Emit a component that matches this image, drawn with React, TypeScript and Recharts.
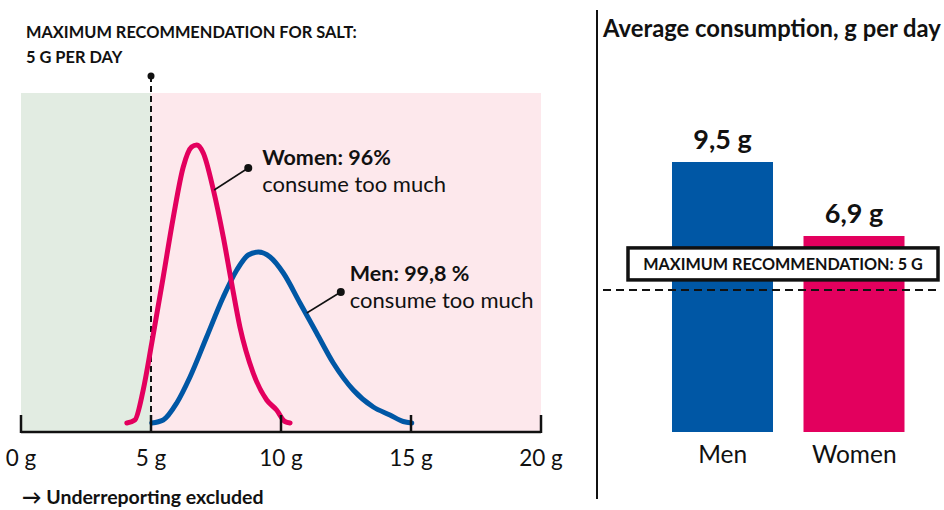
import React from 'react';
import {
  LineChart, Line, XAxis, YAxis, ReferenceArea, ReferenceLine, ReferenceDot,
  BarChart, Bar, LabelList, Cell,
} from 'recharts';

const FONT = 'Lato, "Noto Sans", sans-serif';
const BLUE = '#0057a5';
const PINK = '#e3005e';
const GREEN_BG = '#e2ece2';
const PINK_BG = '#fde8ec';
const INK = '#111111';

// ---- Left panel: distribution of daily salt intake (relative frequency) ----
const gramTicks = [0, 5, 10, 15, 20];
const recommendedMax = 5;

const womenGrams = [4.07, 4.38, 4.7, 5.03, 5.47, 5.86, 6.24, 6.56, 6.76, 7.01, 7.4, 7.78, 8.1, 8.42, 8.93, 9.45, 9.83, 10.15, 10.35];
const womenDensity = [0, 3, 33, 80, 146, 206, 256, 276, 278, 270, 233, 186, 140, 96, 50, 23, 13, 1.5, 0];

const menGrams = [5.03, 5.47, 5.99, 6.5, 7.14, 7.78, 8.3, 8.74, 9.13, 9.58, 10.09, 10.73, 11.37, 12.01, 12.78, 13.55, 14.19, 14.7, 15.03];
const menDensity = [0, 3, 20, 46, 86, 126, 153, 168, 171, 166, 150, 120, 90, 60, 33, 16, 8, 1.5, 0];

// ---- Right panel: average consumption ----
const categories = ['Men', 'Women'];
const averages = [9.5, 6.9];
const barColors = [BLUE, PINK];

const womenData = womenGrams.map((g, i) => ({ g, d: womenDensity[i] }));
const menData = menGrams.map((g, i) => ({ g, d: menDensity[i] }));
const barData = categories.map((name, i) => ({ name, value: averages[i] }));

const GramTick = (props: any) => {
  const { x, y, payload } = props;
  return (
    <g>
      <line x1={x} x2={x} y1={y - 17} y2={y + 1} stroke={INK} strokeWidth={2.5} />
      <text x={x} y={y + 34} textAnchor="middle" fontSize={22.5} fill={INK} fontFamily={FONT}>
        {`${payload.value} g`}
      </text>
    </g>
  );
};

const makeCallout = (title: string, sub: string, dx: number, dy: number) => (props: any) => {
  const vb = props.viewBox || {};
  const cx = (vb.x ?? 0) + (vb.width ?? 0) / 2;
  const cy = (vb.y ?? 0) + (vb.height ?? 0) / 2;
  return (
    <text x={cx + dx} y={cy + dy} fontFamily={FONT} fontSize={22} fill={INK}>
      <tspan fontWeight={700} fontSize={21.5}>{title}</tspan>
      <tspan x={cx + dx} dy={27}>{sub}</tspan>
    </text>
  );
};

const BoxLabel = (props: any) => {
  const vb = props.viewBox || {};
  const x0 = (vb.x ?? 0) + 25;
  const y0 = (vb.y ?? 0) - 42;
  return (
    <g>
      <rect x={x0} y={y0} width={310} height={32} fill="#fff" stroke={INK} strokeWidth={3.5} />
      <text x={x0 + 155} y={y0 + 22} textAnchor="middle" fontFamily={FONT} fontWeight={700} fontSize={16.2} fill={INK}>
        MAXIMUM RECOMMENDATION: 5 G
      </text>
    </g>
  );
};

export default function App() {
  return (
    <div style={{ position: 'absolute', left: 0, top: 0, width: 944, height: 510, background: '#fff', fontFamily: FONT }}>
      <div style={{ position: 'absolute', left: 0, top: 0 }}>
        <LineChart width={597} height={510} margin={{ top: 93, right: 56, bottom: 38, left: 21 }}>
          <XAxis
            dataKey="g"
            type="number"
            domain={[0, 20]}
            ticks={gramTicks}
            interval={0}
            height={40}
            tickSize={0}
            tickMargin={0}
            tickLine={false}
            axisLine={{ stroke: INK, strokeWidth: 2.5 }}
            tick={<GramTick />}
            allowDataOverflow
          />
          <YAxis hide domain={[-9, 330]} width={0} allowDataOverflow />
          <ReferenceArea x1={0} x2={recommendedMax} fill={GREEN_BG} fillOpacity={1} stroke="none" />
          <ReferenceArea x1={recommendedMax} x2={20} fill={PINK_BG} fillOpacity={1} stroke="none" />
          <ReferenceLine
            segment={[{ x: recommendedMax, y: -9 }, { x: recommendedMax, y: 347 }]}
            stroke={INK}
            strokeWidth={2}
            strokeDasharray="6 4"
            ifOverflow="visible"
          />
          <ReferenceDot x={recommendedMax} y={347} r={3.5} fill={INK} stroke="none" ifOverflow="visible" />
          <Line data={menData} dataKey="d" type="monotone" stroke={BLUE} strokeWidth={5} dot={false} activeDot={false} isAnimationActive={false} strokeLinecap="round" />
          <Line data={womenData} dataKey="d" type="monotone" stroke={PINK} strokeWidth={5} dot={false} activeDot={false} isAnimationActive={false} strokeLinecap="round" />
          <ReferenceLine segment={[{ x: 7.43, y: 233 }, { x: 8.74, y: 255 }]} stroke={INK} strokeWidth={1.5} />
          <ReferenceDot x={8.74} y={255} r={4} fill={INK} stroke="none" label={makeCallout('Women: 96%', 'consume too much', 14, -3)} />
          <ReferenceLine segment={[{ x: 10.99, y: 110 }, { x: 12.3, y: 131 }]} stroke={INK} strokeWidth={1.5} />
          <ReferenceDot x={12.3} y={131} r={4} fill={INK} stroke="none" label={makeCallout('Men: 99,8 %', 'consume too much', 9, -11)} />
        </LineChart>
      </div>
      <div style={{ position: 'absolute', left: 597, top: 0 }}>
        <BarChart width={347} height={510} data={barData} margin={{ top: 91, right: 7, bottom: 38, left: 6 }}>
          <XAxis
            dataKey="name"
            padding={{ left: 54, right: 17 }}
            axisLine={false}
            tickLine={false}
            tickSize={0}
            tickMargin={14}
            height={40}
            tick={{ fontSize: 24.5, fill: INK, fontFamily: FONT }}
          />
          <XAxis xAxisId="full" type="number" domain={[0, 1]} hide />
          <YAxis hide domain={[0, 12]} width={0} />
          <Bar dataKey="value" barSize={101} isAnimationActive={false}>
            {barData.map((d, i) => (
              <Cell key={d.name} fill={barColors[i]} />
            ))}
            <LabelList
              dataKey="value"
              position="top"
              offset={13}
              formatter={(v: any) => `${String(v).replace('.', ',')} g`}
              style={{ fontSize: 27, fontWeight: 700, fill: INK, fontFamily: FONT }}
            />
          </Bar>
          <ReferenceLine
            y={recommendedMax}
            xAxisId="full"
            stroke={INK}
            strokeWidth={2}
            strokeDasharray="8 5"
            label={<BoxLabel />}
          />
        </BarChart>
      </div>
      <svg width={944} height={510} style={{ position: 'absolute', left: 0, top: 0, pointerEvents: 'none' }}>
        <text x={26} y={38} fontFamily={FONT} fontWeight={700} fontSize={16.4} fill={INK}>MAXIMUM RECOMMENDATION FOR SALT:</text>
        <text x={26} y={63} fontFamily={FONT} fontWeight={700} fontSize={16.4} fill={INK}>5 G PER DAY</text>
        <text x={22} y={504} fontFamily={FONT} fontWeight={700} fontSize={19.5} fill={INK}>→ Underreporting excluded</text>
        <text x={603} y={37} fontFamily={FONT} fontWeight={700} fontSize={23.8} fill={INK}>Average consumption, g per day</text>
        <line x1={597} x2={597} y1={10} y2={499} stroke={INK} strokeWidth={2} />
      </svg>
    </div>
  );
}
